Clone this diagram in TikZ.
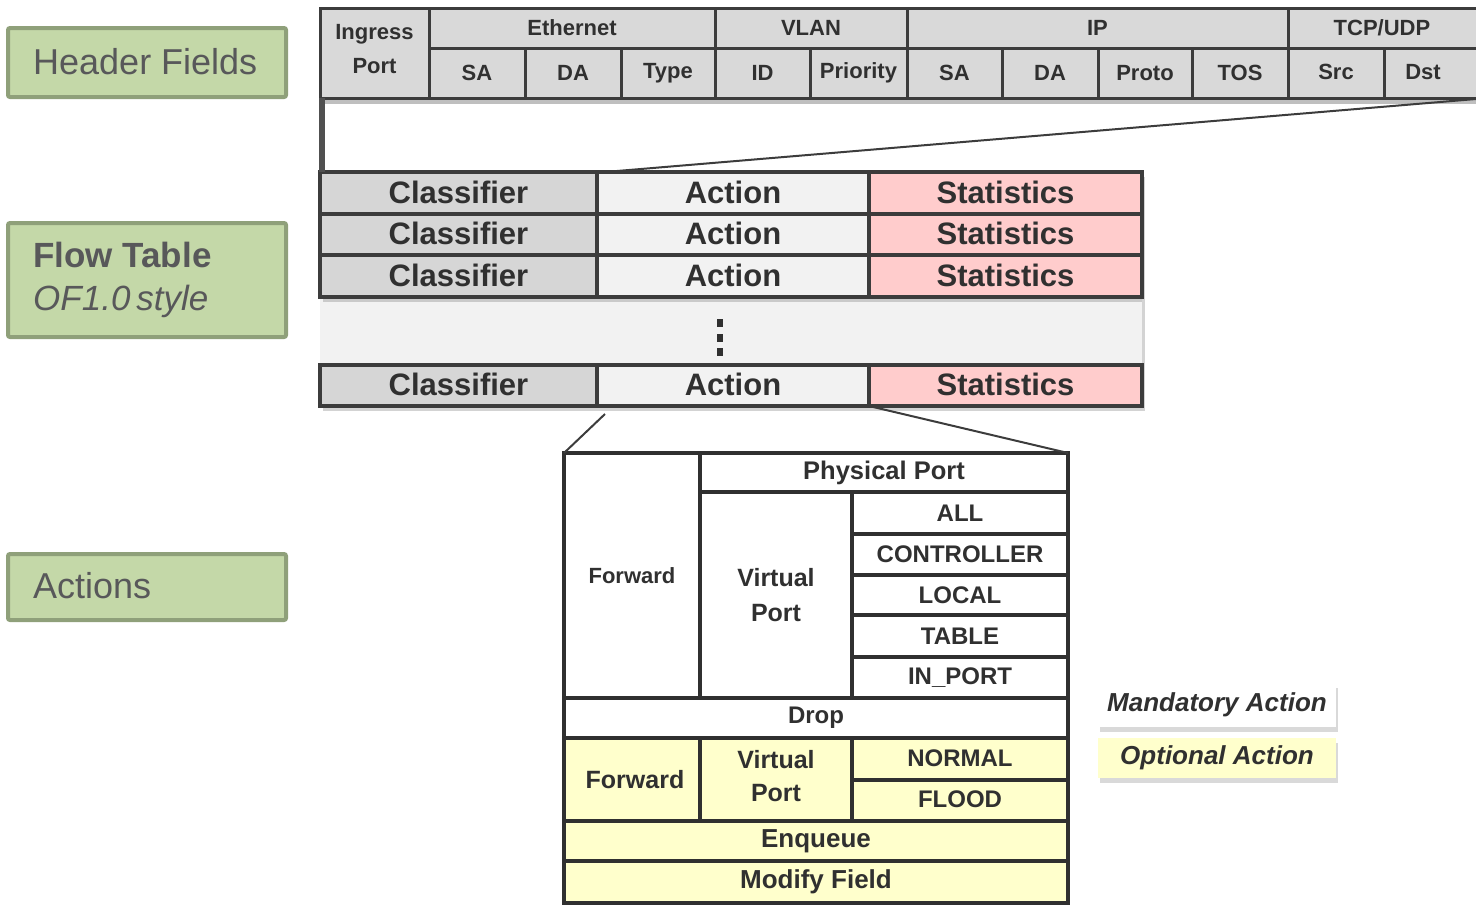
\documentclass[tikz,border=0pt]{standalone}
\usepackage{fontspec}
\setmainfont{Liberation Sans}
\usetikzlibrary{shadows,calc}
\definecolor{lineC}{HTML}{3C3C3C}
\definecolor{txtC}{HTML}{303030}
\definecolor{hdrC}{HTML}{D9D9D9}
\definecolor{clsC}{HTML}{D6D6D6}
\definecolor{actC}{HTML}{F2F2F2}
\definecolor{stC}{HTML}{FFCCCC}
\definecolor{optC}{HTML}{FFFFCC}
\definecolor{grnF}{HTML}{C4D8A8}
\definecolor{grnB}{HTML}{8FA07A}
\definecolor{grnT}{HTML}{58585A}
\newcommand\cellnode[7]{\node[#6, minimum width={(#4-#2)*1pt}, minimum height={(#5-#3)*1pt}] (#1) at ({(#2+#4)/2},{(#3+#5)/2}) {#7};}
\tikzset{
  base/.style={inner sep=0pt, outer sep=0pt, align=center, text=txtC},
  hcell/.style={base, draw=lineC, line width=3pt, fill=hdrC, font=\bfseries\fontsize{22}{34}\selectfont},
  fcell/.style={base, draw=lineC, line width=3.5pt, font=\bfseries\fontsize{31}{33}\selectfont},
  acell/.style={base, draw=txtC, line width=3.5pt, fill=white, font=\bfseries\fontsize{24}{35}\selectfont},
  ocell/.style={acell, fill=optC},
  fshadow/.style={drop shadow={shadow xshift=3pt, shadow yshift=-5pt, opacity=0.35}},
  legend/.style={base, font=\bfseries\itshape\fontsize{26}{30}\selectfont, drop shadow={shadow xshift=2pt, shadow yshift=-5pt, opacity=0.3}},
  label/.style={draw=grnB, fill=grnF, line width=4pt, rounded corners=2pt, inner sep=0pt, outer sep=0pt},
  labtext/.style={text=grnT, anchor=west, align=left, inner sep=0pt},
  conn/.style={draw=lineC, line width=2pt},
}
\begin{document}
\begin{tikzpicture}[x=1pt,y=-1pt]
\useasboundingbox (0,0) rectangle (1476,906);
% ---------- left labels ----------
\cellnode{lhf}{8}{28}{286}{97}{label}{}
\node[labtext, font=\fontsize{36}{40}\selectfont] (lhft) at (33,62) {Header Fields};
\cellnode{lft}{8}{223}{286}{337}{label}{}
\node[labtext, font=\fontsize{35}{43}\selectfont] (lftt) at (33,280) {{\bfseries Flow Table}\\{\itshape OF1.0\,style}};
\cellnode{lac}{8}{554}{286}{620}{label}{}
\node[labtext, font=\fontsize{36}{40}\selectfont] (lact) at (33,586) {Actions};
% ---------- header fields ----------
\fill[black, opacity=0.25] (322,98) rectangle (1480,104);
\cellnode{ing}{320}{8}{429}{98}{hcell}{}
\node[base, font=\bfseries\fontsize{22}{34}\selectfont] (ingT) at ($(ing.center)+(0,-4)$) {Ingress\\Port};
\cellnode{eth}{429}{8}{715}{48}{hcell}{Ethernet}
\cellnode{vlan}{715}{8}{907}{48}{hcell}{VLAN}
\cellnode{ip}{907}{8}{1288}{48}{hcell}{IP}
\cellnode{tcp}{1288}{8}{1490}{48}{hcell}{\hspace*{-14pt}TCP/UDP\hspace*{0pt}}
\cellnode{esa}{429}{48}{525}{98}{hcell}{SA}
\cellnode{eda}{525}{48}{621}{98}{hcell}{DA}
\cellnode{ety}{621}{48}{715}{98}{hcell}{Type}
\cellnode{vid}{715}{48}{810}{98}{hcell}{ID}
\cellnode{vpr}{810}{48}{907}{98}{hcell}{Priority}
\cellnode{isa}{907}{48}{1002}{98}{hcell}{SA}
\cellnode{ida}{1002}{48}{1098}{98}{hcell}{DA}
\cellnode{ipr}{1098}{48}{1192}{98}{hcell}{Proto}
\cellnode{itos}{1192}{48}{1288}{98}{hcell}{TOS}
\cellnode{tsrc}{1288}{48}{1384}{98}{hcell}{\raisebox{3pt}{Src}}
\cellnode{tdst}{1384}{48}{1490}{98}{hcell}{\hspace*{-28pt}\raisebox{3pt}{Dst}}
\coordinate (hfR) at (1476,99);
% ---------- flow table ----------
\cellnode{gap}{320}{297}{1142}{365}{base, fill=actC, fshadow}{}
\foreach \r/\ya/\yb in {1/172/214, 2/214/255, 3/255/297, 4/365/406}{
  \cellnode{cls\r}{320}{\ya}{597}{\yb}{fcell, fill=clsC, fshadow}{\raisebox{2pt}{Classifier}}
  \cellnode{act\r}{597}{\ya}{869}{\yb}{fcell, fill=actC, fshadow}{\raisebox{2pt}{Action}}
  \cellnode{st\r}{869}{\ya}{1142}{\yb}{fcell, fill=stC, fshadow}{\raisebox{2pt}{Statistics}}
}
\foreach \yy in {323,338,352}{\fill[txtC] (717,\yy-4) rectangle (723,\yy+4);}
% connectors
\draw[draw=lineC!90, line width=5.5pt] (ing.south west) ++(2,0) coordinate (barT) -- (barT |- cls1.north) coordinate (barB);
\draw[conn] (hfR) -- ($(act1.north west)+(8,0)$);
% ---------- actions ----------
\cellnode{fwd1}{564}{453}{700}{698}{acell, font=\bfseries\fontsize{22}{26}\selectfont}{\raisebox{-2pt}{Forward}}
\cellnode{phys}{700}{453}{1068}{492}{acell, font=\bfseries\fontsize{25.5}{30}\selectfont}{Physical Port}
\cellnode{vp1}{700}{492}{852}{698}{acell, font=\bfseries\fontsize{25}{35}\selectfont}{Virtual\\Port}
\cellnode{all}{852}{492}{1068}{534}{acell}{ALL}
\cellnode{ctrl}{852}{534}{1068}{575}{acell}{CONTROLLER}
\cellnode{loc}{852}{575}{1068}{615}{acell}{LOCAL}
\cellnode{tab}{852}{615}{1068}{657}{acell}{TABLE}
\cellnode{inp}{852}{657}{1068}{698}{acell}{IN\_PORT}
\cellnode{drop}{564}{698}{1068}{738}{acell}{Drop}
\cellnode{fwd2}{564}{738}{700}{821}{ocell, font=\bfseries\fontsize{25}{30}\selectfont}{\hspace*{6pt}Forward}
\cellnode{vp2}{700}{738}{852}{821}{ocell, font=\bfseries\fontsize{25}{35}\selectfont}{\raisebox{7pt}{\shortstack{Virtual\\[13pt]Port}}}
\cellnode{norm}{852}{738}{1068}{780}{ocell}{\raisebox{2pt}{NORMAL}}
\cellnode{flood}{852}{780}{1068}{821}{ocell}{\raisebox{2pt}{FLOOD}}
\cellnode{enq}{564}{821}{1068}{861}{ocell, font=\bfseries\fontsize{26}{30}\selectfont}{Enqueue}
\cellnode{mod}{564}{861}{1068}{903}{ocell, font=\bfseries\fontsize{26}{30}\selectfont}{Modify Field}
\draw[conn] ($(act4.south west)+(8,8)$) -- (fwd1.north west);
\draw[conn] (st4.south west) -- (phys.north east);
% ---------- legend ----------
\cellnode{mand}{1098}{683}{1336}{727}{legend, fill=white}{Mandatory Action}
\cellnode{opt}{1098}{738}{1336}{778}{legend, fill=optC}{Optional Action}
\end{tikzpicture}
\end{document}
